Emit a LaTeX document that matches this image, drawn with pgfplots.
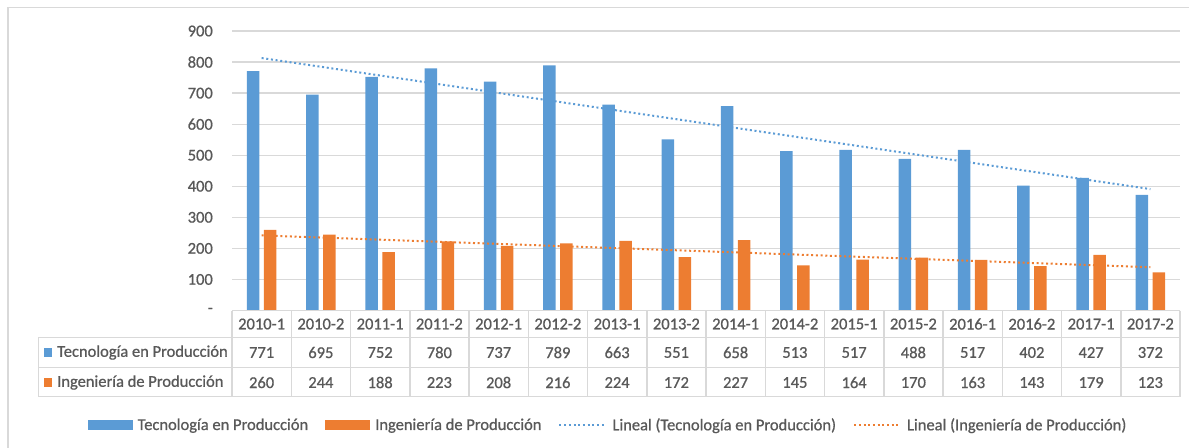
\documentclass[border=0pt]{standalone}
\usepackage{pgfplots}
\pgfplotsset{compat=1.18}
\usepackage{pgfplotstable}
\usepackage{fontspec}
\setmainfont{Carlito}
\newfontfamily\chartfamily{Carlito}[FakeBold=0.8]

\definecolor{tecblue}{HTML}{5B9BD5}
\definecolor{ingorange}{HTML}{ED7D31}
\definecolor{txtgray}{HTML}{595959}
\definecolor{linegray}{HTML}{D9D9D9}

% Students per semester: Tecnología (tec) and Ingeniería (ing)
\pgfplotstableread{
idx sem    tec ing
0   2010-1 771 260
1   2010-2 695 244
2   2011-1 752 188
3   2011-2 780 223
4   2012-1 737 208
5   2012-2 789 216
6   2013-1 663 224
7   2013-2 551 172
8   2014-1 658 227
9   2014-2 513 145
10  2015-1 517 164
11  2015-2 488 170
12  2016-1 517 163
13  2016-2 402 143
14  2017-1 427 179
15  2017-2 372 123
}\datos

\newcommand{\chartfont}{\chartfamily\fontsize{16.5bp}{19bp}\selectfont}

\begin{document}
\begin{tikzpicture}[font=\chartfont, text=txtgray]
\path[use as bounding box] (0,0) rectangle (1189bp,-448bp);
% chart area frame (top and left edges)
\draw[linegray, line width=1.5bp] (8bp,-460bp) -- (8bp,-7.5bp) -- (1200bp,-7.5bp);

\begin{axis}[
  at={(232bp,-310.5bp)}, anchor=south west,
  scale only axis, width=948bp, height=279.5bp,
  xmin=-0.5, xmax=15.5, ymin=0, ymax=900,
  clip=false,
  axis line style={draw=none},
  major tick length=0pt,
  font=\chartfont,
  ytick={0,100,...,900},
  yticklabels={{-\hspace{7bp}},100,200,300,400,500,600,700,800,900},
  yticklabel style={anchor=east, inner sep=0pt, xshift=-19bp, text=txtgray},
  xtick={0,...,15},
  xticklabels from table={\datos}{sem},
  xticklabel style={anchor=center, inner sep=0pt, yshift=-13.5bp, text=txtgray},
  ymajorgrids,
  grid style={linegray, line width=1.3bp},
  legend columns=4,
  legend style={at={(0.3956,-0.4097)}, anchor=center, draw=none, fill=none,
    font=\chartfont, text=txtgray, cells={anchor=west}, nodes={inner sep=0pt},
    /tikz/every even column/.append style={column sep=17bp}},
]
\addplot[ybar, bar width=12.5bp, bar shift=-8.5bp, fill=tecblue, draw=none,
  legend image code/.code={\fill[tecblue] (0bp,-5bp) rectangle (45bp,5bp); \path (50bp,0bp);}]
  table[x=idx, y=tec] {\datos};
\addlegendentry{Tecnología en Producción}
\addplot[ybar, bar width=12.5bp, bar shift=8.5bp, fill=ingorange, draw=none,
  legend image code/.code={\fill[ingorange] (0bp,-5bp) rectangle (45bp,5bp); \path (50bp,0bp);}]
  table[x=idx, y=ing] {\datos};
\addlegendentry{Ingeniería de Producción}
% linear trend lines (least squares over the 16 semesters)
\addplot[tecblue, line width=2bp, dash pattern=on 2bp off 2.7bp,
  legend image code/.code={\draw[tecblue, line width=2bp, dash pattern=on 2bp off 2.7bp] (0bp,0bp) -- (45bp,0bp); \path (52bp,0bp);}]
  coordinates {(0,813.02) (15,390.99)};
\addlegendentry{Lineal (Tecnología en Producción)}
\addplot[ingorange, line width=2bp, dash pattern=on 2bp off 2.7bp,
  legend image code/.code={\draw[ingorange, line width=2bp, dash pattern=on 2bp off 2.7bp] (0bp,0bp) -- (45bp,0bp); \path (52bp,0bp);}]
  coordinates {(0,241.77) (15,139.35)};
\addlegendentry{Lineal (Ingeniería de Producción)}
% data table values
\addplot[draw=none, mark=none, forget plot, nodes near coords, point meta=explicit symbolic,
  nodes near coords style={anchor=center, inner sep=0pt, yshift=-42bp, text=txtgray, font=\chartfont}]
  table[x=idx, y expr=0, meta=tec] {\datos};
\addplot[draw=none, mark=none, forget plot, nodes near coords, point meta=explicit symbolic,
  nodes near coords style={anchor=center, inner sep=0pt, yshift=-72bp, text=txtgray, font=\chartfont}]
  table[x=idx, y expr=0, meta=ing] {\datos};
\end{axis}

% data table grid
\begin{scope}[linegray, line width=1.5bp]
\draw (232bp,-310.5bp) -- (1180bp,-310.5bp);
\foreach \yy in {337.3,367.3,396.7}
  \draw (38.7bp,-\yy bp) -- (1180bp,-\yy bp);
\draw (38.7bp,-337.3bp) -- (38.7bp,-396.7bp);
\foreach \k in {0,...,16}
  \draw ({(232+59.25*\k)*1bp},-310.5bp) -- ({(232+59.25*\k)*1bp},-396.7bp);
\end{scope}
% row headers with colour keys
\fill[tecblue] (44bp,-348bp) rectangle (52bp,-357bp);
\fill[ingorange] (44bp,-378bp) rectangle (52bp,-387bp);
\node[anchor=west, inner sep=0pt, text=txtgray] at (57bp,-352.5bp) {Tecnología en Producción};
\node[anchor=west, inner sep=0pt, text=txtgray] at (57bp,-382.5bp) {Ingeniería de Producción};
\end{tikzpicture}
\end{document}
